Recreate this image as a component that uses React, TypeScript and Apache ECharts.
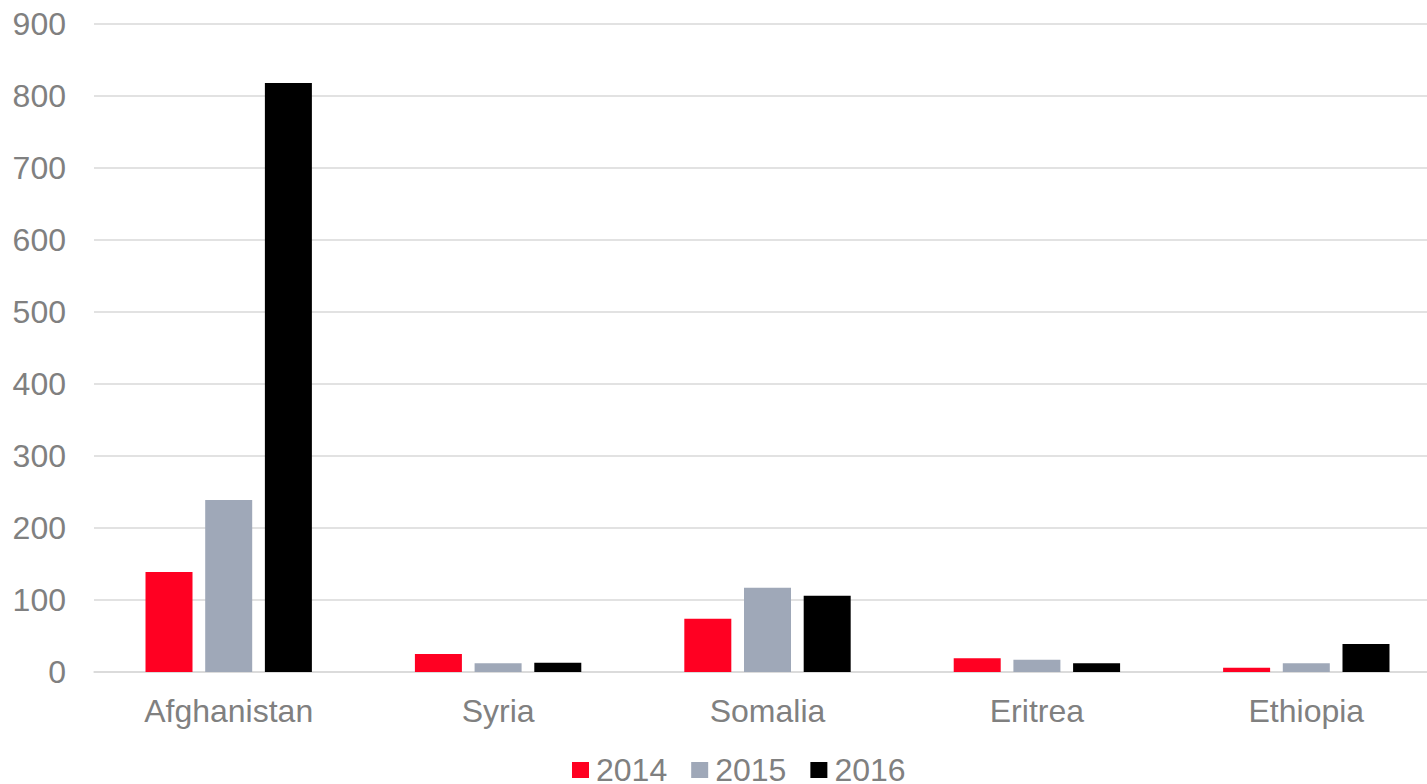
import React, { useEffect, useRef } from "react";
import * as echarts from "echarts";

const categories = ["Afghanistan", "Syria", "Somalia", "Eritrea", "Ethiopia"];
const seriesNames = ["2014", "2015", "2016"];
const values2014 = [139, 25, 74, 19, 6];
const values2015 = [239, 12, 117, 17, 12];
const values2016 = [818, 13, 106, 12, 39];
const colors = ["#FF0022", "#9FA8B8", "#000000"];

export default function App() {
  const ref = useRef<HTMLDivElement>(null);
  useEffect(() => {
    if (!ref.current) return;
    const chart = echarts.init(ref.current, null, { renderer: "svg" });
    const data = [values2014, values2015, values2016];
    chart.setOption({
      animation: false,
      backgroundColor: "#ffffff",
      grid: { left: 94, right: 0, top: 24, bottom: 112, containLabel: false },
      legend: {
        top: 749,
        left: 567,
        itemWidth: 17,
        itemHeight: 16,
        itemGap: 24,
        icon: "rect",
        textStyle: { fontSize: 32, color: "#808080", fontFamily: "Liberation Sans", padding: [0, 0, 0, 2] },
        data: seriesNames,
      },
      xAxis: {
        type: "category",
        data: categories,
        axisLine: { lineStyle: { color: "#d9d9d9", width: 1.5 } },
        axisTick: { show: false },
        axisLabel: { fontSize: 32, color: "#808080", fontFamily: "Liberation Sans", margin: 23 },
      },
      yAxis: {
        type: "value",
        min: 0,
        max: 900,
        interval: 100,
        axisLine: { show: false },
        axisTick: { show: false },
        splitLine: { lineStyle: { color: "#d9d9d9", width: 1.5 } },
        axisLabel: { fontSize: 32, color: "#808080", fontFamily: "Liberation Sans", margin: 28 },
      },
      series: seriesNames.map((name, i) => ({
        name,
        type: "bar",
        data: data[i],
        barWidth: 47,
        barGap: "27%",
        itemStyle: { color: colors[i] },
      })),
    });
    return () => chart.dispose();
  }, []);
  return (
    <div style={{ position: "fixed", left: 0, top: 0, width: 1427, height: 784, overflow: "hidden" }}>
      <div ref={ref} style={{ width: 1441, height: 784 }} />
    </div>
  );
}
